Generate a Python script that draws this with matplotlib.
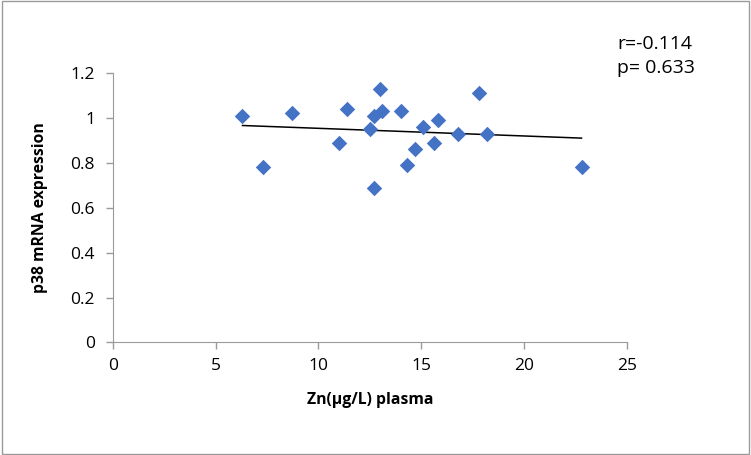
import numpy as np
import matplotlib
matplotlib.use("Agg")
import matplotlib.pyplot as plt
from matplotlib.patches import Rectangle

# Zn plasma vs p38 mRNA expression
zn = [6.3, 7.3, 8.7, 11.0, 11.4, 12.5, 12.7, 12.7, 13.0, 13.1,
      14.0, 14.3, 14.7, 15.1, 15.6, 15.8, 16.8, 17.8, 18.2, 22.8]
p38 = [1.01, 0.78, 1.02, 0.89, 1.04, 0.95, 1.01, 0.69, 1.13, 1.03,
       1.03, 0.79, 0.86, 0.96, 0.89, 0.99, 0.93, 1.11, 0.93, 0.78]
x_ticks = [0, 5, 10, 15, 20, 25]
y_ticks = [0, 0.2, 0.4, 0.6, 0.8, 1.0, 1.2]
y_tick_labels = ["0", "0.2", "0.4", "0.6", "0.8", "1", "1.2"]
stats_text = "r=-0.114\np= 0.633"

plt.rcParams['font.family'] = ['Open Sans', 'DejaVu Sans']

fig = plt.figure(figsize=(7.51, 4.55), dpi=100)
ax = fig.add_axes([0.1505, 0.2473, 0.684, 0.5923])

ax.scatter(zn, p38, marker='D', s=62, color='#4472C4', zorder=3, linewidths=0)

# linear trend line over the data range
slope, intercept = np.polyfit(zn, p38, 1)
xs = np.array([min(zn), max(zn)])
ax.plot(xs, slope * xs + intercept, color='black', lw=1.1, zorder=2)

ax.set_xlim(0, 25)
ax.set_ylim(0, 1.2)
ax.set_xticks(x_ticks)
ax.set_yticks(y_ticks)
ax.set_yticklabels(y_tick_labels)
ax.tick_params(axis='both', labelsize=12.5, color='#9a9a9a', length=5, width=1)
ax.tick_params(axis='x', pad=6)
ax.tick_params(axis='y', pad=8)
for side in ['top', 'right']:
    ax.spines[side].set_visible(False)
for side in ['left', 'bottom']:
    ax.spines[side].set_color('#9a9a9a')

ax.set_xlabel('Zn(µg/L) plasma', fontsize=11.3, fontweight='bold', labelpad=13)
ax.set_ylabel('p38 mRNA expression', fontsize=11.3, fontweight='bold', labelpad=16)

fig.text(0.822, 0.877, stats_text, fontsize=14, va='center', ha='left', linespacing=1.4)

fig.patches.append(Rectangle((0.002, 0.003), 0.996, 0.994, transform=fig.transFigure,
                             fill=False, edgecolor='#9a9a9a', lw=1))

fig.savefig('out.png', dpi=100)
